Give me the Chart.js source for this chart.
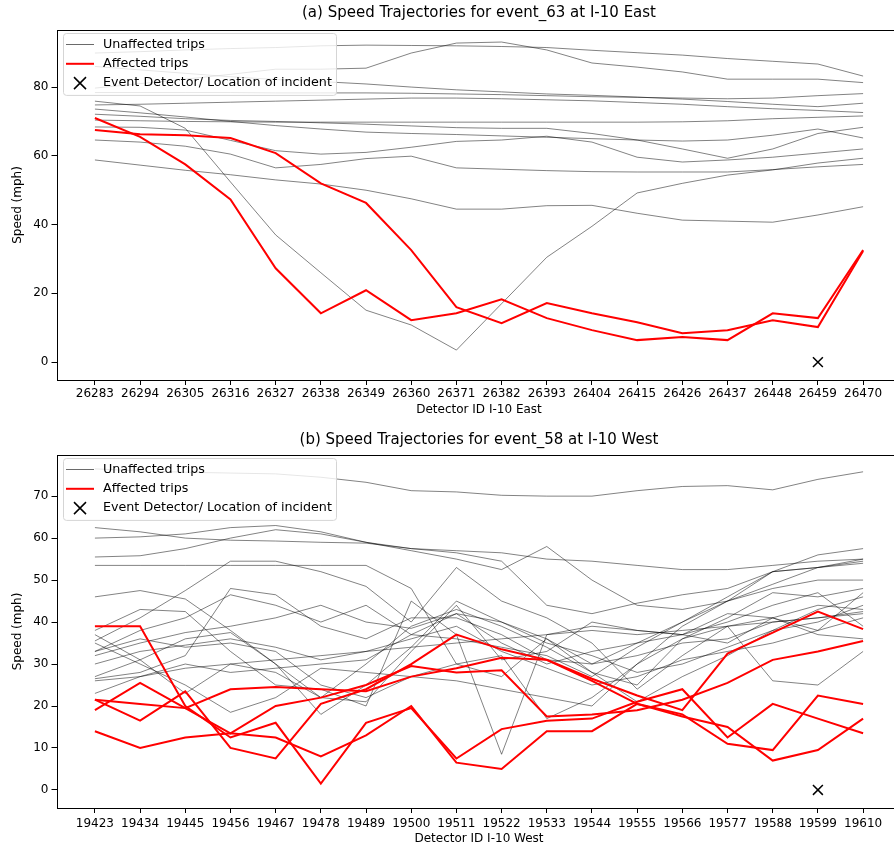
<!DOCTYPE html>
<html>
<head>
<meta charset="utf-8">
<script src="https://cdn.jsdelivr.net/npm/chart.js@4.4.0/dist/chart.umd.min.js"></script>
<style>
  html, body { margin: 0; background: #fff; overflow: hidden; width: 894px; height: 847px; }
  canvas { position: absolute; left: 0; }
  #top { top: 0; }
  #bottom { top: 428px; }
</style>
</head>
<body>
<canvas id="top" width="910" height="423"></canvas>
<canvas id="bottom" width="910" height="419"></canvas>
<script>
// detector ids
const eastDetectors = ['26283','26294','26305','26316','26327','26338','26349','26360','26371',
    '26382','26393','26404','26415','26426','26437','26448','26459','26470'];
const westDetectors = ['19423','19434','19445','19456','19467','19478','19489','19500','19511',
    '19522','19533','19544','19555','19566','19577','19588','19599','19610'];

// event_63, I-10 East
const eastUnaffected = [
    [89.9, 90.3, 90.8, 91.2, 91.5, 92, 92.2, 92.1, 92, 91.8, 91.5, 90.7, 90, 89.3, 88.3, 87.5, 86.7, 83.2],
    [79.7, 81, 82.3, 83.7, 85.2, 85.2, 85.5, 89.9, 92.8, 93.1, 90.8, 87, 85.8, 84.4, 82.3, 82.3, 82.3, 81.3],
    [86, 85, 84, 83, 82.2, 81.6, 80.9, 80, 79.2, 78.6, 78, 77.6, 77.1, 76.5, 75.8, 75, 74.3, 75.3],
    [78.4, 78.4, 78.4, 78.4, 78.3, 78.3, 78.3, 78.2, 78, 77.8, 77.5, 77.2, 77, 76.8, 76.6, 76.8, 77.5, 78.1],
    [75.9, 74.5, 68, 52.4, 37, 26, 15.1, 10.8, 3.5, 17, 30.5, 39.5, 49.2, 52, 54.4, 55.9, 57.9, 59.3],
    [74.8, 75, 75.3, 75.6, 75.9, 76.2, 76.5, 76.8, 76.8, 76.6, 76.3, 76, 75.5, 75, 74.3, 73.7, 73.2, 72.6],
    [73.6, 72.5, 71.3, 70, 68.8, 67.8, 66.9, 66.5, 66.2, 65.8, 65.4, 65, 64.6, 64.3, 64.6, 66, 67.8, 65.2],
    [72.1, 71.5, 70.8, 70.3, 70, 69.6, 69.2, 68.7, 68.2, 68, 68, 66.5, 64.6, 62, 59.3, 62, 66.5, 68.3],
    [70.4, 70.2, 70, 69.9, 69.8, 69.8, 69.8, 69.8, 69.8, 69.8, 69.8, 69.8, 69.8, 69.9, 70.2, 70.8, 71.2, 71.6],
    [68.4, 68.3, 67.5, 64.5, 61.5, 60.5, 61, 62.5, 64.2, 64.6, 65.7, 64, 59.6, 58.2, 58.8, 59.6, 60.8, 62],
    [64.6, 64, 62.8, 60.5, 56.5, 57.5, 59.2, 59.9, 56.5, 56.1, 55.7, 55.4, 55.3, 55.3, 55.3, 56, 56.8, 57.5],
    [58.8, 57.3, 55.8, 54.5, 53, 51.8, 50, 47.5, 44.5, 44.5, 45.5, 45.6, 43.3, 41.3, 41, 40.7, 42.8, 45.2]
];
const eastAffected = [
    [71, 65.5, 57.5, 47.3, 27.3, 14.2, 20.9, 12.2, 14.2, 18.3, 12.8, 9.3, 6.4, 7.3, 6.4, 14.2, 12.8, 32.6],
    [67.5, 66.3, 66, 65.2, 60.8, 52, 46.3, 32.6, 16, 11.3, 17.2, 14.2, 11.6, 8.4, 9.3, 12.2, 10.2, 32.3]
];
const eastEventIndex = 16;

// event_58, I-10 West
const westUnaffected = [
    [76.5, 76, 75.7, 75.5, 75.3, 74.5, 73.3, 71.3, 71, 70.2, 70, 70, 71.3, 72.3, 72.5, 71.5, 74, 75.8],
    [62.5, 61.5, 60, 59.5, 59.3, 59, 58.8, 57.5, 57, 56.5, 55, 54.5, 53.5, 52.5, 52.5, 53.5, 54.5, 55],
    [60, 60.3, 61, 62.5, 63, 61.5, 59, 57, 55, 52.5, 58, 50, 44, 43, 45, 52, 56, 57.5],
    [55.5, 55.8, 57.5, 60, 62, 61, 59, 57.5, 56.5, 54.5, 44, 42, 44.5, 46.5, 48, 52, 53, 54.5],
    [53.5, 53.5, 53.5, 53.5, 53.5, 53.5, 53.5, 48, 30, 27, 36, 30, 35, 40, 45, 49, 53, 54],
    [46, 47.5, 45.5, 38, 30, 22, 30, 39, 43, 39, 34, 28, 25, 36, 41, 47, 46, 48],
    [38, 43, 42.5, 33, 25, 24, 20, 45, 37, 8.5, 37, 39, 38, 37, 35, 41, 44, 43],
    [35.5, 41, 47.5, 54.5, 54.5, 52, 48.5, 40, 53, 45, 41, 35, 24, 32, 39, 41, 38, 47],
    [33, 38, 41, 46.5, 44, 40, 44, 37, 36, 34, 32, 27, 34, 40, 46, 52, 53, 55],
    [32, 35, 37.5, 39, 41, 44, 40, 38.5, 42, 40, 36, 28, 21, 27, 32, 38, 43, 46],
    [30, 33, 34.5, 36, 34, 31, 33, 36, 39, 33, 29, 25, 27, 31, 33, 35, 38, 41],
    [27, 31, 36, 37.5, 30, 18, 25, 34, 45, 40, 35, 32, 28, 30, 34, 38, 40, 44],
    [26.5, 28, 32, 48, 46.5, 39, 36, 41, 41, 37, 31, 30, 32, 35, 36, 40, 41, 42.5],
    [26, 27, 29, 30, 31, 32, 33, 34, 35, 36, 37, 38, 37, 38, 39, 40, 41, 42],
    [23, 27, 30, 28, 29, 30, 31, 37, 42, 35, 30, 33, 35, 37, 40, 44, 47, 39],
    [35, 30, 25, 18.5, 22, 29, 28, 27, 26, 24, 22, 20, 30, 36, 39, 26, 25, 33],
    [33, 36, 34, 35, 33, 25, 22, 27, 30, 32, 17, 22, 30, 39, 45, 48, 50, 50],
    [37, 31, 23, 30, 28, 22, 21, 33, 44, 31, 33, 40, 38, 37, 42, 41, 37, 36]
];
const westAffected = [
    [39, 39, 20, 12.5, 16, 1.5, 16, 19.5, 7.5, 14.5, 16.5, 17, 21, 24, 12.5, 20.5, 17, 13.5],
    [14, 10, 12.5, 13.5, 12.5, 8, 13, 20, 6.5, 5, 14, 14, 20.5, 18, 11, 9.5, 22.5, 20.5],
    [21.5, 16.5, 23.5, 10, 7.5, 20.5, 24, 30, 37, 33.5, 31, 26, 20.5, 17.5, 15, 7, 9.5, 17],
    [19, 25.5, 19.5, 24, 24.5, 24, 23.5, 27, 29, 31.5, 31, 26.5, 22.5, 19, 32.5, 37.5, 42.5, 38.3],
    [21.5, 20.5, 19.5, 13.5, 20, 22, 25, 29.5, 28, 28.5, 17.5, 18, 19, 21.5, 25.5, 31, 33, 35.5]
];
const westEventIndex = 16;

const FONT = 'DejaVu Sans';
Chart.defaults.font.family = FONT;
Chart.defaults.color = '#000';

// title over the axes centre, frame around the axes, matplotlib style legend
const framePlugin = {
    id: 'frame',
    afterDatasetsDraw(chart) {
        const a = chart.chartArea, ctx = chart.ctx;
        ctx.save();
        ctx.strokeStyle = '#000';
        ctx.lineWidth = 1;
        ctx.strokeRect(Math.round(a.left) + 0.5, Math.round(a.top) + 0.5,
            Math.round(a.right - a.left), Math.round(a.bottom - a.top));
        ctx.restore();
    },
    afterDraw(chart, args, opts) {
        const a = chart.chartArea, ctx = chart.ctx;
        ctx.save();
        ctx.fillStyle = '#000';
        ctx.font = '15px ' + FONT;
        ctx.textAlign = 'center';
        ctx.textBaseline = 'middle';
        ctx.fillText(opts.title, (a.left + a.right) / 2, opts.titleY);

        const x0 = a.left + 6.5, y0 = a.top + 3, w = 273, rowH = 19.3;
        ctx.fillStyle = 'rgba(255,255,255,0.8)';
        ctx.strokeStyle = '#d5d5d5';
        ctx.lineWidth = 1;
        ctx.beginPath();
        ctx.roundRect(Math.round(x0) + 0.5, Math.round(y0) + 0.5, w, 3 * rowH + 4, 3);
        ctx.fill();
        ctx.stroke();
        const items = [
            {label: 'Unaffected trips', kind: 'gray'},
            {label: 'Affected trips', kind: 'red'},
            {label: 'Event Detector/ Location of incident', kind: 'x'}
        ];
        ctx.font = '12.7px ' + FONT;
        ctx.textAlign = 'left';
        items.forEach((it, i) => {
            const cy = y0 + 11.5 + i * rowH;
            if (it.kind === 'x') {
                ctx.strokeStyle = '#000';
                ctx.lineWidth = 1.5;
                ctx.beginPath();
                ctx.moveTo(x0 + 11, cy - 6); ctx.lineTo(x0 + 23, cy + 6);
                ctx.moveTo(x0 + 23, cy - 6); ctx.lineTo(x0 + 11, cy + 6);
                ctx.stroke();
            } else {
                ctx.strokeStyle = it.kind === 'red' ? '#ff0000' : 'rgba(0,0,0,0.65)';
                ctx.lineWidth = it.kind === 'red' ? 2 : 0.9;
                ctx.beginPath();
                ctx.moveTo(x0 + 3, cy); ctx.lineTo(x0 + 31, cy);
                ctx.stroke();
            }
            ctx.fillStyle = '#000';
            ctx.fillText(it.label, x0 + 40, cy);
        });
        ctx.restore();
    }
};

function buildChart(id, cfg) {
    const toPoints = arr => arr.map((v, i) => ({x: i, y: v}));
    const datasets = [];
    cfg.unaffected.forEach(s => datasets.push({
        data: toPoints(s), borderColor: 'rgba(0,0,0,0.62)', borderWidth: 0.8,
        pointRadius: 0, tension: 0, order: 3
    }));
    cfg.affected.forEach(s => datasets.push({
        data: toPoints(s), borderColor: '#ff0000', borderWidth: 2,
        pointRadius: 0, tension: 0, order: 2
    }));
    datasets.push({
        type: 'scatter', data: [{x: cfg.eventIdx, y: 0}], borderColor: '#000', backgroundColor: '#000',
        pointStyle: 'crossRot', pointRadius: 7, borderWidth: 1.5, order: 1
    });
    const labels = cfg.labels;

    return new Chart(document.getElementById(id).getContext('2d'), {
        type: 'line',
        data: {datasets: datasets},
        options: {
            responsive: false,
            animation: false,
            events: [],
            layout: {padding: {left: 8, right: 6.5, top: cfg.padTop, bottom: 0}},
            plugins: {
                legend: {display: false},
                tooltip: {enabled: false},
                title: {display: false},
                frame: {title: cfg.title, titleY: cfg.titleY}
            },
            scales: {
                x: {
                    type: 'linear', min: -0.85, max: 17.85,
                    afterBuildTicks: sc => { sc.ticks = labels.map((l, i) => ({value: i})); },
                    afterFit: sc => { sc.height = cfg.xHeight; },
                    ticks: {
                        autoSkip: false, maxRotation: 0, padding: cfg.xTickPad,
                        font: {size: 12}, color: '#000',
                        callback: (v) => labels[v]
                    },
                    grid: {display: true, drawOnChartArea: false, drawTicks: true, tickLength: 5, color: '#000'},
                    border: {display: false},
                    title: {display: true, text: cfg.xTitle, font: {size: 12}, padding: {top: 0, bottom: cfg.xTitlePad}}
                },
                y: {
                    min: cfg.yMin, max: cfg.yMax,
                    afterBuildTicks: sc => {
                        const t = [];
                        for (let v = 0; v <= cfg.yMax; v += cfg.yStep) t.push({value: v});
                        sc.ticks = t;
                    },
                    afterFit: sc => { sc.width = 48.5; },
                    ticks: {font: {size: 12}, color: '#000', padding: 3},
                    grid: {display: true, drawOnChartArea: false, drawTicks: true, tickLength: 5, color: '#000'},
                    border: {display: false},
                    title: {display: true, text: 'Speed (mph)', font: {size: 12}, padding: {top: 3, bottom: 2}}
                }
            }
        },
        plugins: [framePlugin]
    });
}

buildChart('top', {
    title: '(a) Speed Trajectories for event_63 at I-10 East', titleY: 13,
    xTitle: 'Detector ID I-10 East', labels: eastDetectors,
    unaffected: eastUnaffected, affected: eastAffected, eventIdx: eastEventIndex,
    yMin: -5.2, yMax: 96.6, yStep: 20, padTop: 30, xHeight: 43, xTitlePad: 6, xTickPad: 2
});
buildChart('bottom', {
    title: '(b) Speed Trajectories for event_58 at I-10 West', titleY: 12,
    xTitle: 'Detector ID I-10 West', labels: westDetectors,
    unaffected: westUnaffected, affected: westAffected, eventIdx: westEventIndex,
    yMin: -4.3, yMax: 79.8, yStep: 10, padTop: 27, xHeight: 39, xTitlePad: 0.5, xTickPad: 4
});
</script>
</body>
</html>
